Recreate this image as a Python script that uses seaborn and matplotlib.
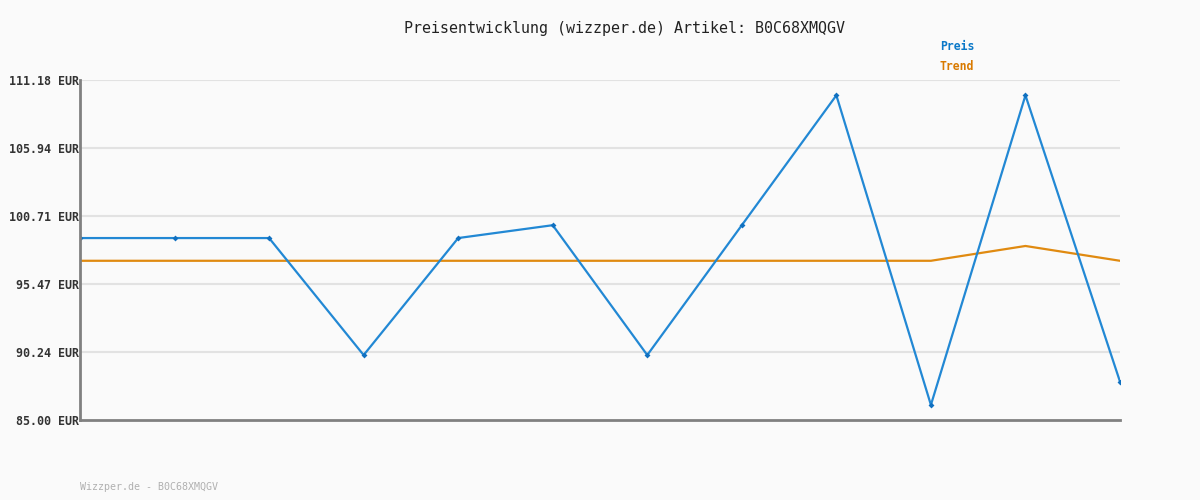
import matplotlib
matplotlib.use("Agg")
import matplotlib.pyplot as plt
import seaborn as sns
import pandas as pd

idx = list(range(12))
preis = [99.01, 99.01, 99.01, 90.0, 99.01, 100.0, 90.0, 100.0, 110.0, 86.16, 110.0, 87.95]
trend = [97.26, 97.26, 97.26, 97.26, 97.26, 97.26, 97.26, 97.26, 97.26, 97.26, 98.4, 97.26]
yticks = [85.00, 90.24, 95.47, 100.71, 105.94, 111.18]
ytick_labels = ["85.00 EUR", "90.24 EUR", "95.47 EUR", "100.71 EUR", "105.94 EUR", "111.18 EUR"]
title = "Preisentwicklung (wizzper.de) Artikel: B0C68XMQGV"
footer = "Wizzper.de - B0C68XMQGV"

sns.set_theme(style="white")
plt.rcParams['font.family'] = ['DejaVu Sans Mono', 'DejaVu Sans']

bg = "#fafafa"
blue = "#2288d4"
orange = "#e08a10"

fig = plt.figure(figsize=(12, 5), dpi=100, facecolor=bg)
ax = fig.add_axes([80/1200, 80/500, 1040/1200, 340/500])
ax.set_facecolor(bg)

df = pd.DataFrame({"i": idx, "Preis": preis, "Trend": trend})
sns.lineplot(data=df, x="i", y="Trend", ax=ax, color=orange, linewidth=1.6)
sns.lineplot(data=df, x="i", y="Preis", ax=ax, color=blue, linewidth=1.6,
             marker="D", markersize=3, markeredgewidth=0, markerfacecolor="#1070c0")

ax.set_xlim(0, 11)
ax.set_ylim(85.0, 111.18)
ax.set_yticks(yticks)
ax.set_yticklabels(ytick_labels, fontsize=8.4, fontweight="bold", color="#333333")
ax.set_xticks([])
ax.tick_params(axis="y", length=0, pad=1)
for y in yticks[1:]:
    ax.axhline(y, color="#e2e2e2", linewidth=1.5, zorder=0)
ax.set_xlabel("")
ax.set_ylabel("")
for s in ["top", "right"]:
    ax.spines[s].set_visible(False)
for s in ["left", "bottom"]:
    ax.spines[s].set_color("#808080")
    ax.spines[s].set_linewidth(2)

fig.text(624/1200, 1 - 28/500, title, ha="center", va="center", fontsize=10.8, color="#222222")
fig.text(940/1200, 1 - 47/500, "Preis", ha="left", va="center", fontsize=8.3, fontweight="bold", color="#0a78c8")
fig.text(940/1200, 1 - 67/500, "Trend", ha="left", va="center", fontsize=8.3, fontweight="bold", color="#d97a00")
fig.text(80/1200, 1 - 487/500, footer, ha="left", va="center", fontsize=7.2, color="#b0b0b0")

fig.savefig("out.png", dpi=100, facecolor=bg)
